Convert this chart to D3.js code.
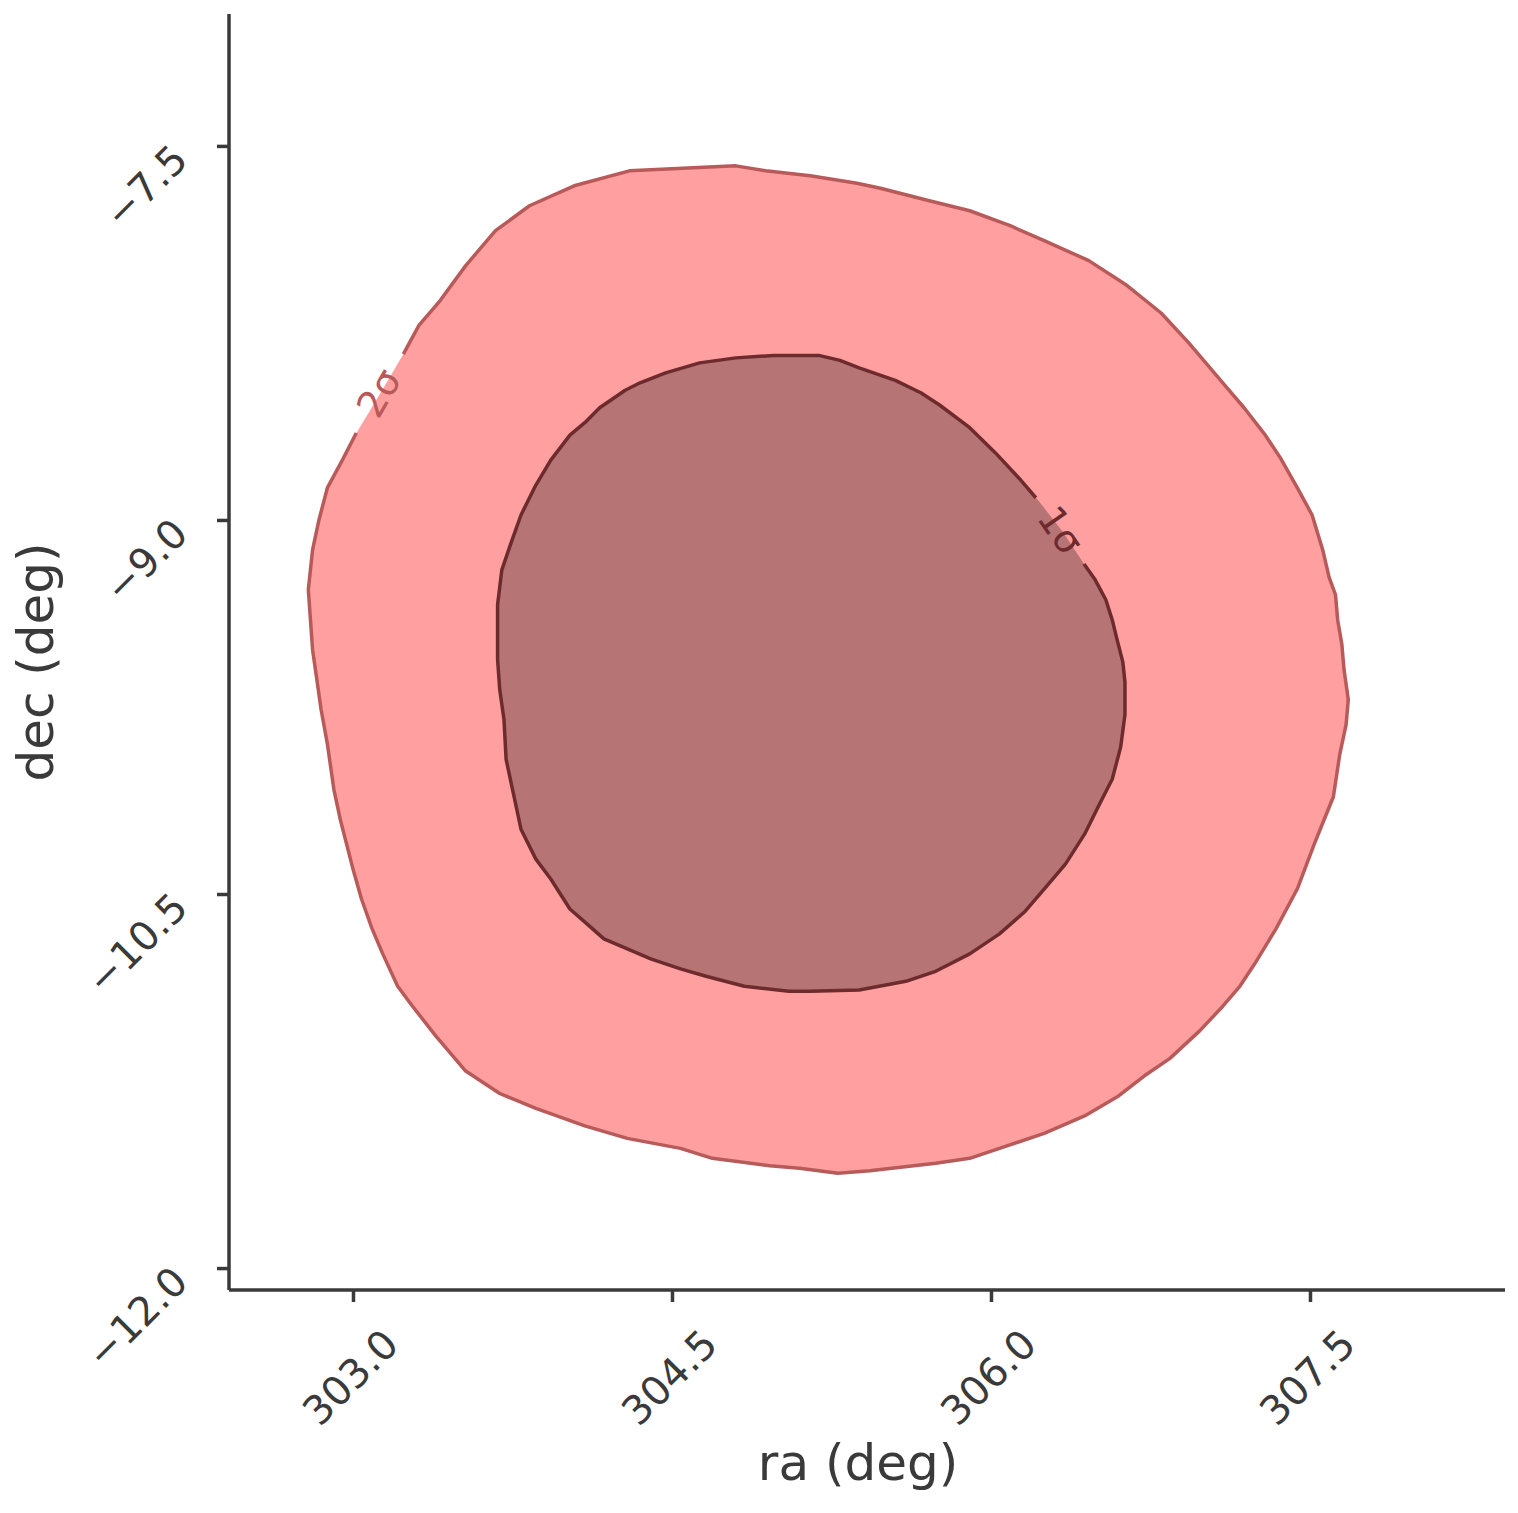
<!DOCTYPE html>
<html><head><meta charset="utf-8">
<script src="https://cdn.jsdelivr.net/npm/d3@7"></script>
<style>body{margin:0;background:#fff}</style>
</head><body>
<script>
const xTicks = [303.0, 304.5, 306.0, 307.5];
const yTicks = [-7.5, -9.0, -10.5, -12.0];
const xLabel = "ra (deg)";
const yLabel = "dec (deg)";
// 2-sigma contour (ra, dec)
const sigma2Ra = [304.80,304.30,304.04,303.83,303.67,303.53,303.41,303.31,303.24,303.13,303.01,302.95,302.88,302.84,302.81,302.79,302.80,302.81,302.83,302.85,302.88,302.91,302.94,302.97,303.00,303.04,303.09,303.14,303.21,303.28,303.39,303.53,303.69,303.86,304.09,304.29,304.54,304.69,304.96,305.10,305.28,305.43,305.74,305.90,306.04,306.25,306.44,306.60,306.72,306.84,306.98,307.09,307.17,307.24,307.34,307.44,307.52,307.61,307.64,307.67,307.68,307.66,307.65,307.63,307.62,307.59,307.56,307.51,307.44,307.36,307.29,307.19,307.11,307.03,306.93,306.80,306.64,306.46,306.25,306.09,305.90,305.71,305.48,305.37,305.15,304.94];
const sigma2Dec = [-7.58,-7.60,-7.66,-7.74,-7.84,-7.98,-8.12,-8.22,-8.33,-8.49,-8.66,-8.76,-8.87,-9.00,-9.12,-9.28,-9.40,-9.52,-9.64,-9.76,-9.90,-10.08,-10.20,-10.30,-10.40,-10.52,-10.64,-10.74,-10.87,-10.95,-11.07,-11.21,-11.30,-11.36,-11.43,-11.48,-11.52,-11.56,-11.59,-11.60,-11.62,-11.61,-11.58,-11.56,-11.52,-11.46,-11.39,-11.31,-11.23,-11.16,-11.05,-10.95,-10.87,-10.78,-10.64,-10.48,-10.30,-10.11,-9.94,-9.82,-9.72,-9.60,-9.50,-9.40,-9.30,-9.23,-9.12,-8.98,-8.87,-8.75,-8.66,-8.55,-8.47,-8.39,-8.29,-8.17,-8.06,-7.96,-7.88,-7.82,-7.76,-7.72,-7.67,-7.65,-7.62,-7.60];
// 1-sigma contour (ra, dec)
const sigma1Ra = [304.98,304.80,304.63,304.47,304.35,304.28,304.16,304.09,304.02,303.93,303.86,303.79,303.74,303.70,303.68,303.68,303.68,303.69,303.71,303.72,303.76,303.79,303.86,303.93,304.02,304.10,304.18,304.29,304.40,304.54,304.66,304.84,305.05,305.15,305.38,305.60,305.74,305.90,306.04,306.16,306.25,306.35,306.44,306.51,306.57,306.61,306.63,306.63,306.62,306.59,306.57,306.54,306.49,306.44,306.34,306.23,306.14,306.02,305.90,305.76,305.67,305.55,305.38,305.29,305.19];
const sigma1Dec = [-8.34,-8.35,-8.37,-8.41,-8.45,-8.48,-8.55,-8.61,-8.66,-8.76,-8.86,-8.98,-9.10,-9.20,-9.34,-9.44,-9.56,-9.68,-9.80,-9.96,-10.12,-10.24,-10.36,-10.44,-10.56,-10.62,-10.68,-10.72,-10.76,-10.80,-10.83,-10.87,-10.89,-10.89,-10.885,-10.85,-10.81,-10.74,-10.66,-10.57,-10.48,-10.38,-10.26,-10.14,-10.04,-9.91,-9.78,-9.65,-9.57,-9.47,-9.40,-9.32,-9.24,-9.18,-9.05,-8.93,-8.84,-8.73,-8.63,-8.54,-8.49,-8.44,-8.39,-8.36,-8.34];
const contourLabels = ["2σ", "1σ"];
const labelRa = [303.12, 306.33];
const labelDec = [-8.49, -9.04];
const labelAngle = [-60, 55];

const W = 1518, H = 1513;
const L = 229, R = 1505, T = 14, B = 1290;
const axisColor = "#3a3a3a";
const x = d3.scaleLinear().domain([302.417, 308.417]).range([L, R]);
const y = d3.scaleLinear().domain([-6.971, -12.088]).range([T, B]);

const svg = d3.select("body").append("svg").attr("width", W).attr("height", H)
  .style("font-family", "'DejaVu Sans', sans-serif");

const defs = svg.append("defs");
const levels = [
  {ra: sigma2Ra, dec: sigma2Dec, fill: "#ff9f9f", stroke: "#b85a5a", li: 0, r: 46},
  {ra: sigma1Ra, dec: sigma1Dec, fill: "#b67474", stroke: "#6e2b2d", li: 1, r: 41}
];
levels.forEach((lv, i) => {
  const m = defs.append("mask").attr("id", "m" + i).attr("maskUnits", "userSpaceOnUse")
    .attr("x", 0).attr("y", 0).attr("width", W).attr("height", H);
  m.append("rect").attr("width", W).attr("height", H).attr("fill", "#fff");
  m.append("circle").attr("cx", x(labelRa[lv.li])).attr("cy", y(labelDec[lv.li])).attr("r", lv.r).attr("fill", "#000");
});

const line = d3.line().x(d => x(d[0])).y(d => y(d[1])).curve(d3.curveLinearClosed);
levels.forEach((lv, i) => {
  const pts = lv.ra.map((r, k) => [r, lv.dec[k]]);
  svg.append("path").attr("d", line(pts)).attr("fill", lv.fill).attr("stroke", "none");
  svg.append("path").attr("d", line(pts)).attr("fill", "none").attr("stroke", lv.stroke)
    .attr("stroke-width", 3.5).attr("stroke-linejoin", "round").attr("mask", `url(#m${i})`);
  svg.append("text").attr("transform", `translate(${x(labelRa[lv.li])},${y(labelDec[lv.li])}) rotate(${labelAngle[lv.li]})`)
    .attr("text-anchor", "middle").attr("dy", "0.36em").attr("font-size", 38)
    .attr("fill", lv.stroke).text(contourLabels[lv.li]);
});

// axes
const xAxis = svg.append("g").attr("transform", `translate(0,${B})`)
  .call(d3.axisBottom(x).tickValues(xTicks).tickSize(12).tickFormat(""));
const yAxis = svg.append("g").attr("transform", `translate(${L},0)`)
  .call(d3.axisLeft(y).tickValues(yTicks).tickSize(12).tickFormat(""));
[xAxis, yAxis].forEach(g => {
  g.select(".domain").attr("stroke", axisColor).attr("stroke-width", 3.5);
  g.selectAll(".tick line").attr("stroke", axisColor).attr("stroke-width", 3.5);
});
xAxis.select(".domain").attr("d", `M${L},0H${R}`);
yAxis.select(".domain").attr("d", `M0,${T}V${B}`);

svg.append("g").selectAll("text").data(xTicks).join("text")
  .attr("transform", d => `translate(${x(d) - 3},${1377}) rotate(-45)`)
  .attr("text-anchor", "middle").attr("dy", "0.36em").attr("font-size", 40)
  .attr("fill", axisColor).text(d => d3.format(".1f")(d));
svg.append("g").selectAll("text").data(yTicks).join("text")
  .attr("transform", d => `translate(${190},${y(d) + 16}) rotate(-45)`)
  .attr("text-anchor", "end").attr("font-size", 40)
  .attr("fill", axisColor).text(d => d3.format(".1f")(d).replace("-", "\u2212"));

svg.append("text").attr("x", 858).attr("y", 1480).attr("text-anchor", "middle")
  .attr("font-size", 50).attr("fill", axisColor).text(xLabel);
svg.append("text").attr("transform", `translate(53,662) rotate(-90)`).attr("text-anchor", "middle")
  .attr("font-size", 50).attr("fill", axisColor).text(yLabel);
</script>
</body></html>
